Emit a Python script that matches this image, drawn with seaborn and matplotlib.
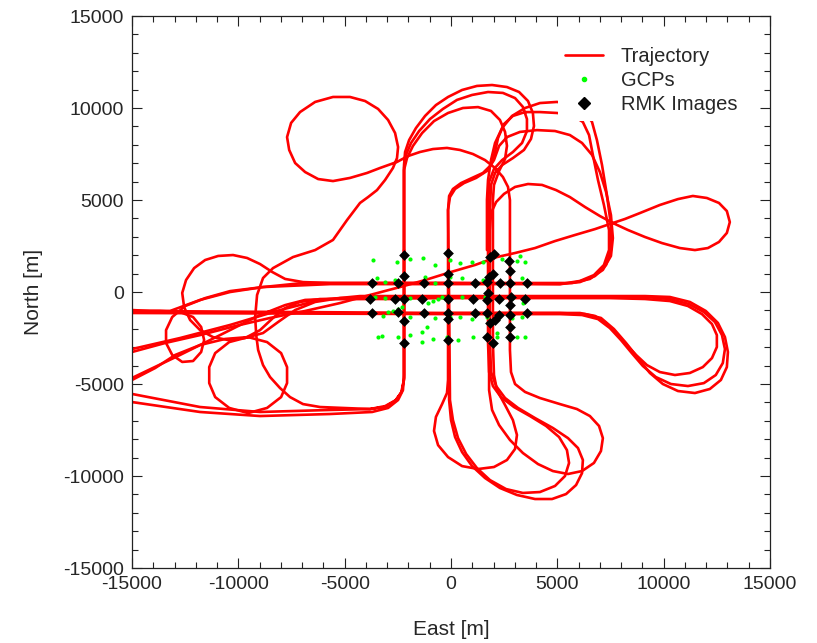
import numpy as np
import pandas as pd
import matplotlib
matplotlib.use('Agg')
import matplotlib.pyplot as plt
from matplotlib.lines import Line2D
from matplotlib.ticker import MultipleLocator
import seaborn as sns

# ---- trajectory passes (East / North in metres) ----
# southern line -> south-east turn 1 -> middle line -> back to the west edge
seg_a_e = [-15000, -7100, 0, 5120, 6060, 6770, 7290, 7760, 8230, 8700, 9210, 9820, 10530, 11230, 11840,
           12270, 12500, 12500, 12270, 11800, 11140, 10290, 9120, 7470, 5120, 0, -5690, -6860, -7800,
           -8980, -10860, -12740, -15000]
seg_a_n = [-1030, -1090, -1140, -1140, -1140, -1300, -1680, -2230, -2830, -3420, -3970, -4350, -4510, -4400,
           -4080, -3590, -2990, -2340, -1740, -1200, -760, -490, -380, -330, -330, -330, -380, -430, -710,
           -1250, -2340, -3420, -4670]

# southern line -> south-east turn 2 -> middle line -> round loop in the west
seg_b_e = [-15000, 0, 5120, 6160, 6910, 7470, 7990, 8500, 9020, 9630, 10340, 11140, 11890, 12450, 12780,
           12880, 12740, 12410, 11890, 11180, 10290, 9120, 7470, 5120, 0, -5220, -6390, -7330, -8130,
           -8840, -9540, -10430, -11090, -11370, -11370, -11090, -10430, -9540, -8650, -7990, -7710,
           -7710, -7990, -8650, -9540, -10620, -11800, -12970, -13910, -15000]
seg_b_n = [-1140, -1200, -1200, -1250, -1470, -1960, -2610, -3320, -4020, -4620, -5000, -5110, -4950, -4510,
           -3860, -3100, -2340, -1630, -1090, -650, -380, -270, -270, -270, -270, -330, -540, -980, -1630,
           -2230, -2450, -2720, -3320, -4080, -4950, -5710, -6300, -6580, -6300, -5710, -4950,
           -4080, -3320, -2720, -2450, -2550, -2880, -3420, -4130, -4780]

# south-east turn 3 (outermost)
seg_c_e = [0, 5120, 6300, 7050, 7660, 8230, 8790, 9350, 9960, 10670, 11470, 12170, 12690, 12970, 13020,
           12880, 12550, 11980, 11230, 10290, 9120, 7470, 5120, 0, -4280, -6160, -8040, -10390, -12740,
           -15000]
seg_c_n = [-1140, -1140, -1200, -1410, -2010, -2770, -3590, -4400, -5000, -5380, -5490, -5270, -4780, -4080,
           -3260, -2450, -1680, -1030, -540, -270, -220, -220, -220, -220, -220, -430, -980, -1790, -2500,
           -3100]

# west line at -2200 E, outer arch, south loop, north-west loop
seg_d_e = [-15000, -11800, -8980, -5690, -3810, -3100, -2590, -2300, -2210, -2210,
           -2210, -2160, -1970, -1650, -1220, -710, -140, 520, 1220, 1930, 2630, 3200, 3620, 3850, 3900,
           3760, 3430, 2910, 2400, 2070, 1880, 1830, 1790,
           1790, 1930, 2260, 2770, 3380, 4090, 4790, 5500, 6160, 6720, 7050, 7140, 6960, 6530, 5920,
           5120, 4180, 3480, 3010, 2820, 2770,
           2770, 2680, 2440, 2070, 1600, 1030, 420, -190, -850, -1460, -2020, -2540,
           -3340, -3950, -4750, -5550, -6250, -6860, -7330, -7610, -7710, -7520, -7100, -6390, -5550,
           -4750, -4040, -3430, -2960, -2630, -2490, -2540, -2730, -3100, -3480, -3900, -4280,
           -4890, -5550, -6390, -7430, -8370, -8840, -9120, -9210, -9160, -9070, -8840, -8510, -8040,
           -7570, -6960, -6160, -3810, -3100, -2630, -2350, -2210, -2210]
seg_d_n = [-5540, -6250, -6520, -6410, -6360, -6200, -5870, -5380, -4670, -430,
           6900, 7610, 8260, 8910, 9570, 10160, 10600, 10980, 11200, 11250, 11140, 10870, 10380, 9730, 9020,
           8320, 7720, 7280, 6900, 6470, 5820, 4460, -2770,
           -5330, -6410, -7230, -8040, -8750, -9350, -9730, -9890, -9730, -9290, -8640, -7940, -7280, -6740,
           -6360, -6090, -5760, -5430, -5000, -4350, -3150,
           5000, 5710, 6250, 6740, 7170, 7500, 7720, 7830, 7770, 7610, 7390, 7070,
           6740, 6470, 6200, 6030, 6140, 6520, 7010, 7720, 8420, 9190, 9780, 10330, 10600,
           10600, 10380, 9950, 9350, 8640, 7880, 7280, 6740, 6090, 5540, 5160, 4840,
           3910, 2830, 2280, 1900, 1300, 760, -160, -1360, -2340, -3150, -3970, -4620, -5220,
           -5710, -6090, -6250, -6360, -6250, -5920, -5490, -4780, 2280]

# middle arch, south loop 2, centre line north, north-east loop, north line, small west loop
seg_e_e = [-2210, -2210, -2120, -1880, -1500, -990, -380, 280, 990, 1740, 2440, 3010, 3380, 3570, 3570,
           3340, 2910, 2400, 2020, 1790, 1740, 1740,
           1790, 1970, 2350, 2960, 3710, 4470, 5080, 5450, 5550, 5360, 4890, 4180, 3380, 2590, 1830, 1220,
           710, 330, 90, -50, -90,
           -140, -90, 90, 470, 990, 1500, 1880, 2070, 2210, 2490, 2910, 3480, 4180, 4980, 5690, 6200,
           6490, 6670, 6910, 7190, 7430, 7430, 7190, 6720, 6060, 5120,
           0, -5690, -8840, -10390, -11560, -12500, -13110, -13400, -13400, -13110, -12640, -12130,
           -11750, -11610, -11750, -12130, -12740, -13680, -15000]
seg_e_n = [2280, 6740, 7450, 8100, 8750, 9400, 9950, 10440, 10710, 10870, 10820, 10540, 10060, 9400, 8750,
           8100, 7610, 7170, 6690, 5980, 4460, -2770,
           -4350, -5110, -5710, -6250, -6740, -7280, -7880, -8590, -9290, -10000, -10540, -10870, -10920,
           -10710, -10220, -9570, -8800, -7940, -6960, -5870, -430,
           4460, 5220, 5600, 5920, 6200, 6470, 6900, 7610, 8370, 9130, 9570, 9780, 9780, 9730, 9620, 9240,
           8530, 7450, 6090, 4730, 3370, 2280, 1470, 920, 600, 430,
           430, 430, 270, 50, -330, -760, -1360, -2070, -2770, -3420, -3800, -3750,
           -3260, -2610, -1900, -1360, -1090, -1030, -1030]

# west line (second pass), inner arch, small south loop, centre line north, north-east loop
seg_f_e = [-15000, -11800, -8980, -5690, -3710, -2960, -2490, -2260, -2210, -2210,
           -2070, -1790, -1360, -800, -140, 560, 1270, 1880, 2300, 2540, 2630, 2540, 2260, 2020, 1970, 1970,
           2020, 2160, 2540, 2910, 3100, 3010, 2630, 2020, 1270, 520, -140, -610, -800, -710, -420, -190,
           -140, -140,
           -140, -50, 190, 610, 1180, 1690, 2020, 2260, 2630, 3240, 4040, 4890, 5590, 6160, 6630, 7000,
           7290, 7520, 7610, 7520, 7140, 6530, 5690,
           0, -3340, -6960, -8840, -10390, -11800, -13210, -14150, -15000]
seg_f_n = [-5980, -6520, -6740, -6630, -6520, -6300, -5870, -5330, -4510, 6630,
           7280, 7940, 8640, 9290, 9730, 10000, 10050, 9840, 9350, 8700, 7940, 7230, 6580, 5820, 5000, -2770,
           -4510, -5330, -6140, -6960, -7770, -8530, -9130, -9510, -9620, -9460, -8970, -8320, -7550, -6790,
           -6090, -5490, -4780, -430,
           4460, 5160, 5600, 5920, 6200, 6580, 7170, 7940, 8420, 8700, 8800, 8750, 8530, 8100, 7450, 6520,
           5440, 4180, 2930, 1960, 1200, 710, 490,
           490, 490, 490, 270, 0, -430, -1030, -1030, -980]

# centre line north, north-east loop, north line, west round loop
seg_g_e = [1690, 1690, 1740, 1880, 2070, 2400, 2870, 3480, 4180, 4980, 5690, 6250, 6630, 6860, 7100,
           7330, 7520, 7520, 7290, 6770, 6060, 5120,
           0, -5690, -6960, -7800, -8410, -8980, -9590, -10250, -10950, -11560, -12080, -12460, -12640,
           -12550, -12270, -11800, -11190, -10480, -9680, -8980, -8370, -7800, -7100, -6160, -2400]
seg_g_n = [2280, 5000, 6090, 7170, 8100, 8910, 9570, 10000, 10270, 10330, 10220, 9890, 9240, 8260, 6900,
           5270, 3640, 2280, 1470, 870, 540, 430,
           490, 490, 540, 710, 1090, 1520, 1850, 2010, 1960, 1740, 1300, 650, -50,
           -820, -1520, -2070, -2450, -2610, -2500, -2070, -1410, -870, -540, -380, -380]

# south loop 3, east tear-drop turn, long diagonal to the west edge
seg_t_e = [-140, -90, 0, 190, 520, 990, 1600, 2300, 3100, 3950, 4750, 5410, 5880, 6160, 6200, 5970, 5500,
           4790, 3950, 3150, 2540, 2120, 1880, 1830,
           1830, 1880, 2120, 2490, 3010, 3620, 4280, 4940, 5590, 6300, 7000, 7610,
           8320, 9120, 9920, 10760, 11470, 12080, 12600, 12970, 13110, 12970, 12600, 12030, 11370, 10670,
           9820, 8880, 8180, 7610,
           6770, 5830, 4890, 3950, 3010, 2160, 1130, 0, -1220, -2400, -3810, -5220, -6860, -8510, -10150,
           -11800, -13440, -15000]
seg_t_n = [-430, -5870, -6960, -7880, -8700, -9460, -10110, -10650, -11030, -11250, -11250, -10980, -10490,
           -9840, -9130, -8480, -7940, -7390, -6850, -6300, -5760, -5110, -4350, -2610,
           3370, 4290, 4890, 5330, 5710, 5870, 5820, 5540, 5160, 4620, 4130, 3750,
           3370, 2990, 2660, 2390, 2280, 2390, 2720, 3210, 3800, 4400, 4840, 5110, 5220, 5050,
           4730, 4290, 3970, 3750,
           3420, 3100, 2770, 2390, 2120, 1900, 1470, 1090, 650, 270, -160, -600, -1030, -1410, -1850,
           -2340, -2770, -3260]

# ---- ground control points ----
gcp_e = [-3670, -2540, -1930, -1320, -750, -50, 420, 990, 1500, 2400, 3240, 3100, 3480,
         -3480, -3100, -2630, -1220, -750, -50, 520, 1500, 3340,
         -3570, -3100, -2630, -1930, -1080, -850, -610, -420, 520, 1600, 2870, 3380,
         -2960, -2730, -2490, -2300, -3200, -1930, -750, -50, 420, 990, 1690, 2210, 2870, 3340,
         -3430, -3240, -2490, -1930, -1360, -1130, -850, -1360, -190, 330, 1030, 2160, 3100, 3480, 2160]
gcp_n = [1740, 1630, 1790, 1850, 1470, 1740, 1580, 1630, 1630, 1790, 1960, 1680, 1630,
         760, 540, 650, 820, 490, 820, 760, 650, 760,
         -270, -330, -430, -330, -600, -490, -380, -270, -270, -270, -330, -600,
         -1090, -1030, -920, -820, -1300, -1360, -1410, -1360, -1360, -1470, -1360, -1410, -1410, -1360,
         -2450, -2390, -2450, -2340, -2170, -1900, -2550, -2720, -2450, -2610, -2450, -2450, -2450, -2450, -2230]

# ---- RMK image centres ----
rmk_e = [-2210, -140, 1830, 2020, 2730,
         -2210, -140, 1790, 1970, 2770,
         -3710, -2490, -1270, -140, 1130, 1690, 2300, 2770, 3570,
         -3810, -2630, -2210, -1360, -140, 1030, 1690, 2260, 2820, 3480, 1740, 2770,
         -3710, -2490, -1270, -140, 1130, 1690, 2260, 2770, 3570,
         -2210, -140, 1830, 2070, 2770,
         -2210, -140, 1690, 1970, 2770]
rmk_n = [2010, 2120, 1900, 2070, 1680,
         870, 980, 820, 980, 1140,
         490, 490, 490, 490, 490, 540, 490, 490, 490,
         -380, -380, -380, -380, -380, -380, -430, -380, -270, -380, -50, -710,
         -1140, -1090, -1140, -1140, -1140, -1140, -1250, -1250, -1140,
         -1580, -1470, -1680, -1520, -1900,
         -2770, -2610, -2450, -2770, -2450]

segments = {'a': (seg_a_e, seg_a_n), 'b': (seg_b_e, seg_b_n), 'c': (seg_c_e, seg_c_n),
            'd': (seg_d_e, seg_d_n), 'e': (seg_e_e, seg_e_n), 'f': (seg_f_e, seg_f_n),
            'g': (seg_g_e, seg_g_n), 't': (seg_t_e, seg_t_n)}
traj = pd.concat([pd.DataFrame({'East': e, 'North': n, 'seg': k})
                  for k, (e, n) in segments.items()], ignore_index=True)
gcps = pd.DataFrame({'East': gcp_e, 'North': gcp_n})
rmk = pd.DataFrame({'East': rmk_e, 'North': rmk_n})

sns.set_style('ticks')
plt.rcParams['font.family'] = ['Liberation Sans', 'DejaVu Sans']
plt.rcParams['axes.unicode_minus'] = False

fig = plt.figure(figsize=(8.17, 6.43), dpi=100, facecolor='white')
ax = fig.add_axes([0.1616, 0.1166, 0.7809, 0.8585])

sns.lineplot(data=traj, x='East', y='North', units='seg', estimator=None, sort=False,
             color='#ff0000', lw=1.9, ax=ax, zorder=2)
sns.scatterplot(data=gcps, x='East', y='North', color='#00ff00', s=9, linewidth=0, ax=ax, zorder=3)
sns.scatterplot(data=rmk, x='East', y='North', color='black', marker='D', s=30, linewidth=0,
                ax=ax, zorder=4)

ax.set_xlim(-15000, 15000)
ax.set_ylim(-15000, 15000)
ax.xaxis.set_major_locator(MultipleLocator(5000))
ax.yaxis.set_major_locator(MultipleLocator(5000))
ax.xaxis.set_minor_locator(MultipleLocator(1000))
ax.yaxis.set_minor_locator(MultipleLocator(1000))
ax.tick_params(which='both', direction='in', top=True, right=True, color='#222222', width=0.8,
               labelsize=14, pad=6)
ax.tick_params(which='major', length=7.5)
ax.tick_params(which='minor', length=4)
for sp in ax.spines.values():
    sp.set_linewidth(0.9)
    sp.set_color('#222222')

ax.set_xlabel('East [m]', fontsize=15, labelpad=19)
ax.set_ylabel('North [m]', fontsize=15, labelpad=14)

handles = [Line2D([], [], color='#ff0000', lw=1.9),
           Line2D([], [], color='#00ff00', marker='o', ls='', markersize=3),
           Line2D([], [], color='black', marker='D', ls='', markersize=6)]
leg = ax.legend(handles, ['Trajectory', 'GCPs', 'RMK Images'], loc='upper left',
                bbox_to_anchor=(0.668, 0.957), borderaxespad=0, fontsize=14.5, frameon=True,
                framealpha=1, edgecolor='none', facecolor='white', handlelength=1.85,
                handletextpad=0.9, labelspacing=0.25, borderpad=0.35)

fig.savefig('out.png', dpi=100, facecolor='white')
